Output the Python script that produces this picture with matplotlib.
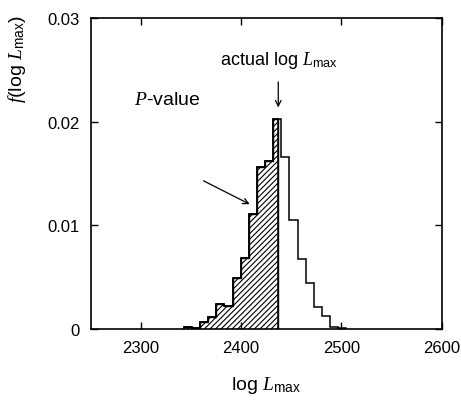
import numpy as np
import matplotlib
matplotlib.use("Agg")
import matplotlib.pyplot as plt

plt.rcParams['font.family'] = ['Liberation Sans', 'DejaVu Sans']
plt.rcParams['mathtext.fontset'] = 'custom'
plt.rcParams['mathtext.it'] = 'Liberation Serif:italic'
plt.rcParams['mathtext.rm'] = 'Liberation Sans'
plt.rcParams['hatch.linewidth'] = 0.8

# histogram of log L_max
bin_edges = [2342.8, 2350.9, 2359.0, 2367.1, 2375.2, 2383.3, 2391.4, 2399.5,
             2407.6, 2415.7, 2423.8, 2431.9, 2440.0, 2448.1, 2456.2, 2464.3,
             2472.4, 2480.5, 2488.6, 2496.7, 2504.8]
density = [0.0002, 0.0001, 0.0006, 0.0011, 0.0024, 0.0022, 0.0049, 0.0068,
           0.0111, 0.0156, 0.0162, 0.0203, 0.0166, 0.0105, 0.0067, 0.0044,
           0.0021, 0.0012, 0.0002, 0.0001]
actual_logL = 2436.5

xticks = [2300, 2400, 2500, 2600]
yticks = [0, 0.01, 0.02, 0.03]
ytick_labels = ['0', '0.01', '0.02', '0.03']

edges = np.array(bin_edges)
vals = np.array(density)

# part of the histogram below the actual value (P-value area)
n_left = int(np.sum(edges < actual_logL))
hatch_edges = np.append(edges[:n_left], actual_logL)
hatch_vals = vals[:n_left]

fig = plt.figure(figsize=(4.61, 4.06), dpi=100)
ax = fig.add_axes([0.197, 0.188, 0.761, 0.765])

ax.stairs(hatch_vals, hatch_edges, fill=True, facecolor='white',
          edgecolor='black', hatch='//////', linewidth=1.0)
ax.stairs(hatch_vals, hatch_edges, color='black', linewidth=1.1, baseline=0)
ax.stairs(vals, edges, color='black', linewidth=1.1, baseline=0)

ax.set_xlim(2250, 2600)
ax.set_ylim(0, 0.03)
ax.set_xticks(xticks)
ax.set_yticks(yticks)
ax.set_yticklabels(ytick_labels)
ax.tick_params(direction='in', length=5, width=1.0, top=True, right=True,
               labelsize=12, pad=8)
for s in ax.spines.values():
    s.set_linewidth(1.2)

ax.set_xlabel(r'log $L_{\mathrm{max}}$', fontsize=14, labelpad=14)
ax.set_ylabel(r'$f$(log $L_{\mathrm{max}}$)', fontsize=14)
ax.yaxis.set_label_coords(-0.178, 0.87)

ax.text(2437.5, 0.026, r'actual log $L_{\mathrm{max}}$', fontsize=13,
        ha='center', va='center')
ax.annotate('', xy=(2437, 0.0211), xytext=(2437, 0.0241),
            arrowprops=dict(arrowstyle='->', color='black', lw=0.9))

ax.text(2326, 0.0221, r'$P$-value', fontsize=14, ha='center', va='center')
ax.annotate('', xy=(2411, 0.0119), xytext=(2360, 0.0144),
            arrowprops=dict(arrowstyle='->', color='black', lw=0.9))

fig.savefig('out.png', dpi=100)
